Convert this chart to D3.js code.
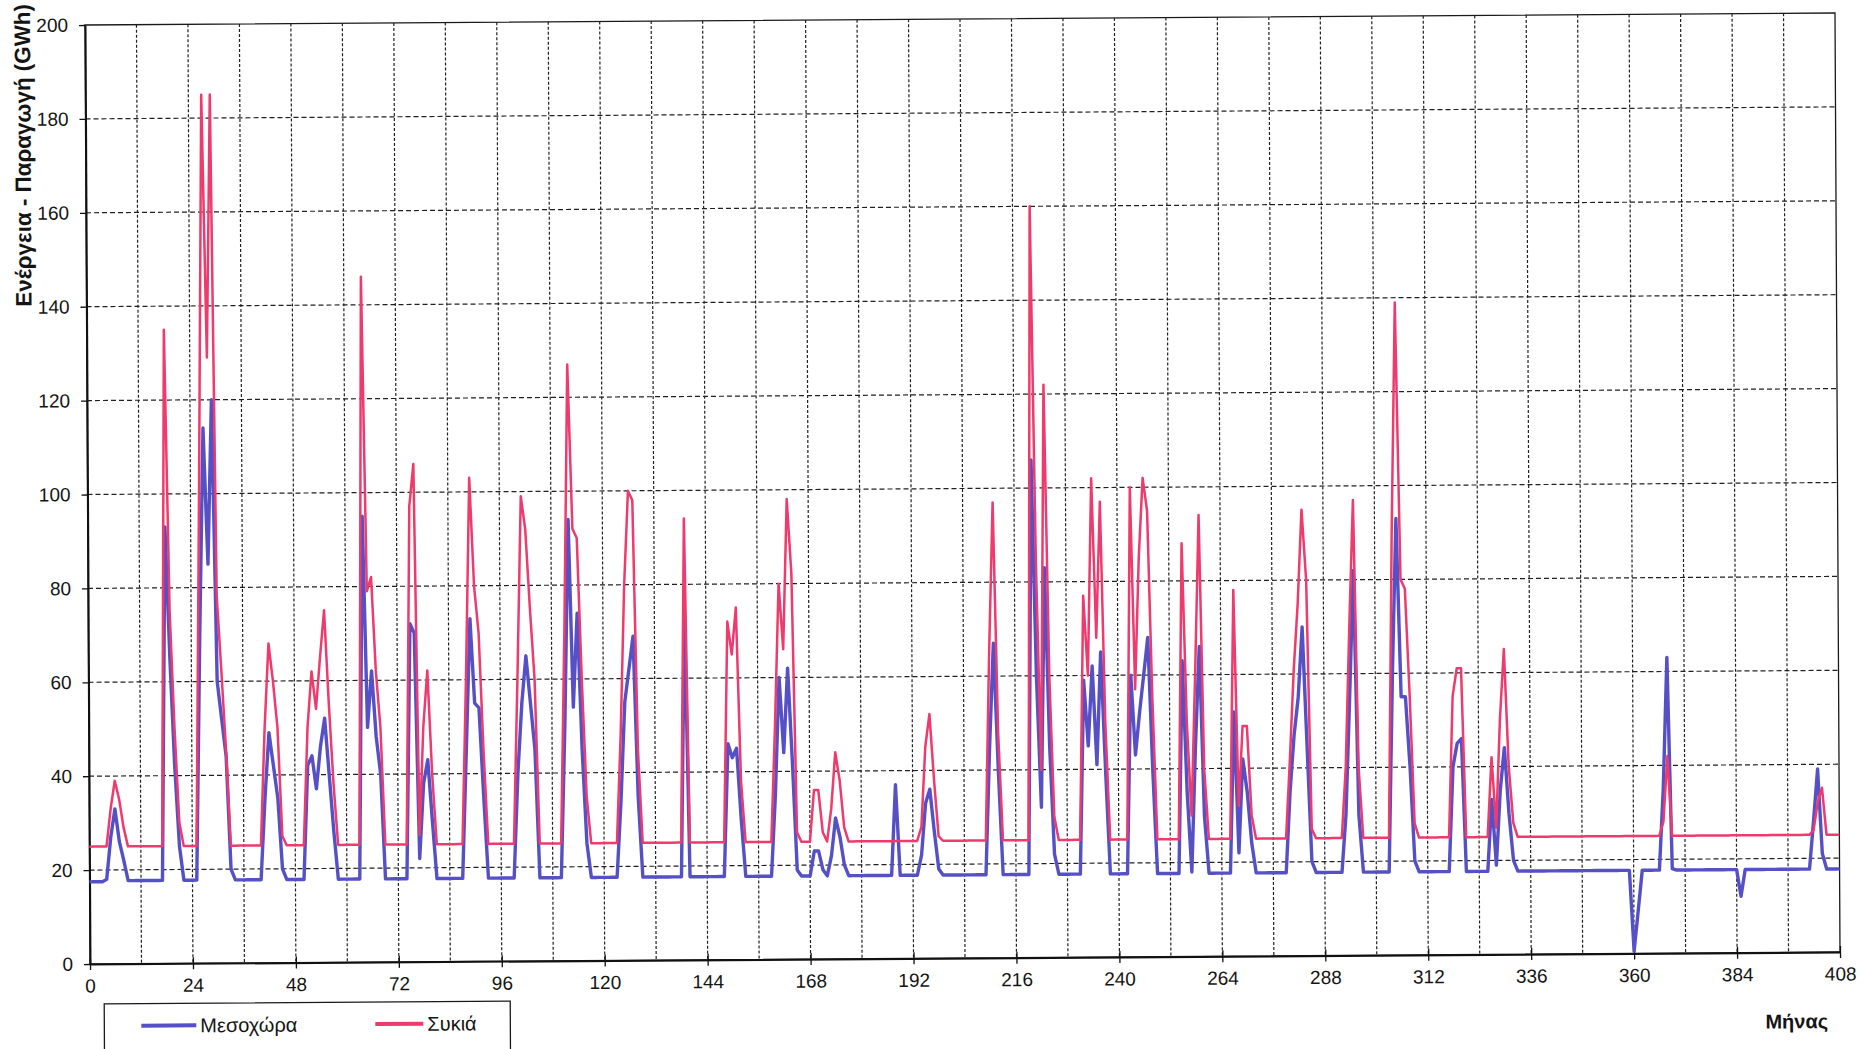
<!DOCTYPE html>
<html>
<head>
<meta charset="utf-8">
<script src="https://cdn.jsdelivr.net/npm/d3@7"></script>
<style>
  html, body { margin: 0; padding: 0; background: #ffffff; }
  svg { display: block; }
  text { font-family: "Liberation Sans", Arial, sans-serif; fill: #141414; }
</style>
</head>
<body>
<svg id="chart" width="1863" height="1049"></svg>
<script>
// ---------------- data (monthly values, month 0 .. 408) ----------------
const months = d3.range(0, 409);

const mesochora = [
  17.5, 17.5, 17.5, 17.5, 18, 27, 33, 26, 22, 17.7, 17.7, 17.7,
  17.7, 17.7, 17.7, 17.7, 17.7, 17.7, 93, 65, 42, 25, 17.7, 17.7,
  17.7, 17.7, 70, 114, 85, 120, 60, 52, 44, 20, 17.7, 17.7,
  17.7, 17.7, 17.7, 17.7, 17.7, 35, 49, 42, 35, 20, 17.7, 17.7,
  17.7, 17.7, 17.7, 42, 44, 37, 46, 52, 40, 28, 17.7, 17.7,
  17.7, 17.7, 17.7, 17.7, 95, 50, 62, 48, 40, 17.7, 17.7, 17.7,
  17.7, 17.7, 17.7, 72, 70, 22, 38, 43, 30, 17.7, 17.7, 17.7,
  17.7, 17.7, 17.7, 17.7, 45, 73, 55, 54, 35, 17.7, 17.7, 17.7,
  17.7, 17.7, 17.7, 17.7, 40, 55, 65, 55, 45, 17.7, 17.7, 17.7,
  17.7, 17.7, 17.7, 50, 94, 54, 74, 45, 25, 17.7, 17.7, 17.7,
  17.7, 17.7, 17.7, 17.7, 34, 55, 62, 69, 35, 17.7, 17.7, 17.7,
  17.7, 17.7, 17.7, 17.7, 17.7, 17.7, 17.7, 74, 17.7, 17.7, 17.7, 17.7,
  17.7, 17.7, 17.7, 17.7, 17.7, 46, 43, 45, 30, 17.7, 17.7, 17.7,
  17.7, 17.7, 17.7, 17.7, 35, 60, 44, 62, 42, 19, 17.7, 17.7,
  17.7, 23, 23, 19, 17.7, 22, 30, 26, 20, 17.7, 17.7, 17.7,
  17.7, 17.7, 17.7, 17.7, 17.7, 17.7, 17.7, 17.7, 37, 17.7, 17.7, 17.7,
  17.7, 17.7, 22, 33, 36, 27, 19, 17.7, 17.7, 17.7, 17.7, 17.7,
  17.7, 17.7, 17.7, 17.7, 17.7, 17.7, 45, 67, 40, 17.7, 17.7, 17.7,
  17.7, 17.7, 17.7, 17.7, 106, 60, 32, 83, 45, 22, 17.7, 17.7,
  17.7, 17.7, 17.7, 17.7, 59, 45, 62, 41, 65, 40, 17.7, 17.7,
  17.7, 17.7, 17.7, 60, 43, 52, 60, 68, 40, 17.7, 17.7, 17.7,
  17.7, 17.7, 17.7, 63, 35, 18, 45, 66, 30, 17.7, 17.7, 17.7,
  17.7, 17.7, 17.7, 52, 22, 42, 35, 24, 17.7, 17.7, 17.7, 17.7,
  17.7, 17.7, 17.7, 17.7, 35, 47, 55, 70, 45, 20, 17.7, 17.7,
  17.7, 17.7, 17.7, 17.7, 17.7, 30, 55, 82, 30, 17.7, 17.7, 17.7,
  17.7, 17.7, 17.7, 17.7, 60, 93, 55, 55, 40, 20, 17.7, 17.7,
  17.7, 17.7, 17.7, 17.7, 17.7, 17.7, 40, 45, 46, 17.7, 17.7, 17.7,
  17.7, 17.7, 17.7, 33, 19, 35, 44, 30, 20, 17.7, 17.7, 17.7,
  17.7, 17.7, 17.7, 17.7, 17.7, 17.7, 17.7, 17.7, 17.7, 17.7, 17.7, 17.7,
  17.7, 17.7, 17.7, 17.7, 17.7, 17.7, 17.7, 17.7, 17.7, 17.7, 17.7, 17.7,
  0.5, 9, 17.7, 17.7, 17.7, 17.7, 17.7, 35, 63, 18, 17.7, 17.7,
  17.7, 17.7, 17.7, 17.7, 17.7, 17.7, 17.7, 17.7, 17.7, 17.7, 17.7, 17.7,
  17.7, 12, 17.7, 17.7, 17.7, 17.7, 17.7, 17.7, 17.7, 17.7, 17.7, 17.7,
  17.7, 17.7, 17.7, 17.7, 17.7, 17.7, 28, 39, 21, 17.7, 17.7, 17.7,
  17.7
];

const sykia = [
  25, 25, 25, 25, 25, 33, 39, 35, 29, 25, 25, 25,
  25, 25, 25, 25, 25, 25, 135, 75, 50, 30, 25, 25,
  25, 25, 100, 185, 129, 185, 78, 62, 45, 25, 25, 25,
  25, 25, 25, 25, 25, 50, 68, 60, 50, 27, 25, 25,
  25, 25, 25, 50, 62, 54, 65, 75, 55, 38, 25, 25,
  25, 25, 25, 25, 146, 79, 82, 62, 50, 25, 25, 25,
  25, 25, 25, 97, 106, 27, 50, 62, 40, 25, 25, 25,
  25, 25, 25, 25, 60, 103, 80, 70, 45, 25, 25, 25,
  25, 25, 25, 25, 60, 99, 92, 75, 60, 25, 25, 25,
  25, 25, 25, 70, 127, 92, 90, 60, 35, 25, 25, 25,
  25, 25, 25, 25, 48, 80, 100, 98, 45, 25, 25, 25,
  25, 25, 25, 25, 25, 25, 25, 94, 25, 25, 25, 25,
  25, 25, 25, 25, 25, 72, 65, 75, 38, 25, 25, 25,
  25, 25, 25, 25, 50, 80, 66, 98, 82, 27, 25, 25,
  25, 36, 36, 27, 25, 32, 44, 38, 28, 25, 25, 25,
  25, 25, 25, 25, 25, 25, 25, 25, 25, 25, 25, 25,
  25, 25, 28, 45, 52, 38, 26, 25, 25, 25, 25, 25,
  25, 25, 25, 25, 25, 25, 65, 97, 48, 25, 25, 25,
  25, 25, 25, 25, 160, 85, 40, 122, 60, 30, 25, 25,
  25, 25, 25, 25, 77, 60, 102, 68, 97, 50, 25, 25,
  25, 25, 25, 100, 57, 85, 102, 95, 55, 25, 25, 25,
  25, 25, 25, 88, 50, 30, 60, 94, 40, 25, 25, 25,
  25, 25, 25, 78, 32, 49, 49, 30, 25, 25, 25, 25,
  25, 25, 25, 25, 42, 61, 75, 95, 80, 27, 25, 25,
  25, 25, 25, 25, 25, 40, 70, 97, 40, 25, 25, 25,
  25, 25, 25, 25, 90, 139, 80, 78, 55, 28, 25, 25,
  25, 25, 25, 25, 25, 25, 55, 61, 61, 25, 25, 25,
  25, 25, 25, 42, 27, 50, 65, 40, 28, 25, 25, 25,
  25, 25, 25, 25, 25, 25, 25, 25, 25, 25, 25, 25,
  25, 25, 25, 25, 25, 25, 25, 25, 25, 25, 25, 25,
  25, 25, 25, 25, 25, 25, 25, 28, 42, 25, 25, 25,
  25, 25, 25, 25, 25, 25, 25, 25, 25, 25, 25, 25,
  25, 25, 25, 25, 25, 25, 25, 25, 25, 25, 25, 25,
  25, 25, 25, 25, 25, 25, 26, 32, 35, 25, 25, 25,
  25
];

const seriesNames = ["Μεσοχώρα", "Συκιά"];
const yTickValues = [0, 20, 40, 60, 80, 100, 120, 140, 160, 180, 200];
const xTickValues = [0, 24, 48, 72, 96, 120, 144, 168, 192, 216, 240, 264, 288, 312, 336, 360, 384, 408];
const xGridValues = d3.range(12, 408, 12);
const yTitle = "Ενέργεια - Παραγωγή (GWh)";
const xTitle = "Μήνας";

// ---------------- layout ----------------
const W = 1863, H = 1049;
const plot = { left: 85, top: 25, right: 1835, bottom: 964 };
const colors = { mesochora: "#5550c6", sykia: "#ee3a6c" };

const x = d3.scaleLinear().domain([0, 408]).range([plot.left, plot.right]);
const y = d3.scaleLinear().domain([0, 200]).range([plot.bottom, plot.top]);

const svg = d3.select("#chart");
svg.append("rect").attr("width", W).attr("height", H).attr("fill", "#ffffff");

// the scanned original is slightly skewed; reproduce it with one affine transform
const g = svg.append("g")
  .attr("transform", "matrix(1,-0.006857,0.005325,1,-0.133,0.583)");

// grid
g.append("g").selectAll("line")
  .data(yTickValues.filter(v => v > 0 && v < 200))
  .join("line")
  .attr("x1", plot.left).attr("x2", plot.right)
  .attr("y1", d => y(d)).attr("y2", d => y(d))
  .attr("stroke", "#202020").attr("stroke-width", 1.2)
  .attr("stroke-dasharray", "5,3");

g.append("g").selectAll("line")
  .data(xGridValues)
  .join("line")
  .attr("x1", d => x(d)).attr("x2", d => x(d))
  .attr("y1", plot.top).attr("y2", plot.bottom)
  .attr("stroke", "#202020").attr("stroke-width", 1.2)
  .attr("stroke-dasharray", "3,2");

// frame
g.append("rect")
  .attr("x", plot.left).attr("y", plot.top)
  .attr("width", plot.right - plot.left).attr("height", plot.bottom - plot.top)
  .attr("fill", "none").attr("stroke", "#1a1a1a").attr("stroke-width", 1.3);

// axes
const xAxis = d3.axisBottom(x).tickValues(xTickValues).tickFormat(d3.format("d"))
  .tickSize(6).tickSizeOuter(0).tickPadding(9);
const gx = g.append("g").attr("transform", `translate(0,${plot.bottom})`).call(xAxis);
gx.select(".domain").attr("stroke", "#111").attr("stroke-width", 2);
gx.selectAll(".tick line").attr("stroke", "#111").attr("stroke-width", 1.3).attr("y1", -6);
gx.selectAll(".tick text").style("font-size", "19px").attr("fill", "#141414");

const yAxis = d3.axisLeft(y).tickValues(yTickValues).tickFormat(d3.format("d"))
  .tickSize(6).tickSizeOuter(0).tickPadding(11);
const gy = g.append("g").attr("transform", `translate(${plot.left},0)`).call(yAxis);
gy.select(".domain").attr("stroke", "#111").attr("stroke-width", 2);
gy.selectAll(".tick line").attr("stroke", "#111").attr("stroke-width", 1.3);
gy.selectAll(".tick text").style("font-size", "19px").attr("fill", "#141414");

// series
const line = d3.line()
  .x((d, i) => x(months[i]))
  .y(d => y(d));

g.append("path").datum(mesochora)
  .attr("d", line).attr("fill", "none")
  .attr("stroke", colors.mesochora).attr("stroke-width", 3.4)
  .attr("stroke-linejoin", "round");

g.append("path").datum(sykia)
  .attr("d", line).attr("fill", "none")
  .attr("stroke", colors.sykia).attr("stroke-width", 2.5)
  .attr("stroke-linejoin", "round");

// axis titles
g.append("text")
  .attr("transform", "translate(30,155) rotate(-90)")
  .attr("text-anchor", "middle")
  .style("font-size", "22.4px").style("font-weight", "bold")
  .text(yTitle);

g.append("text")
  .attr("x", 1760).attr("y", 1040)
  .style("font-size", "20px").style("font-weight", "bold")
  .text(xTitle);

// legend
const lg = g.append("g");
lg.append("rect")
  .attr("x", 99).attr("y", 1004).attr("width", 406).attr("height", 70)
  .attr("fill", "#ffffff").attr("stroke", "#1a1a1a").attr("stroke-width", 1.3);

const legendItems = [
  { name: seriesNames[0], color: colors.mesochora, x1: 136, x2: 191, tx: 195 },
  { name: seriesNames[1], color: colors.sykia, x1: 370, x2: 418, tx: 422 }
];
legendItems.forEach(it => {
  lg.append("line")
    .attr("x1", it.x1).attr("x2", it.x2).attr("y1", 1026).attr("y2", 1026)
    .attr("stroke", it.color).attr("stroke-width", 4);
  lg.append("text")
    .attr("x", it.tx).attr("y", 1033)
    .style("font-size", "20px")
    .text(it.name);
});
</script>
</body>
</html>
